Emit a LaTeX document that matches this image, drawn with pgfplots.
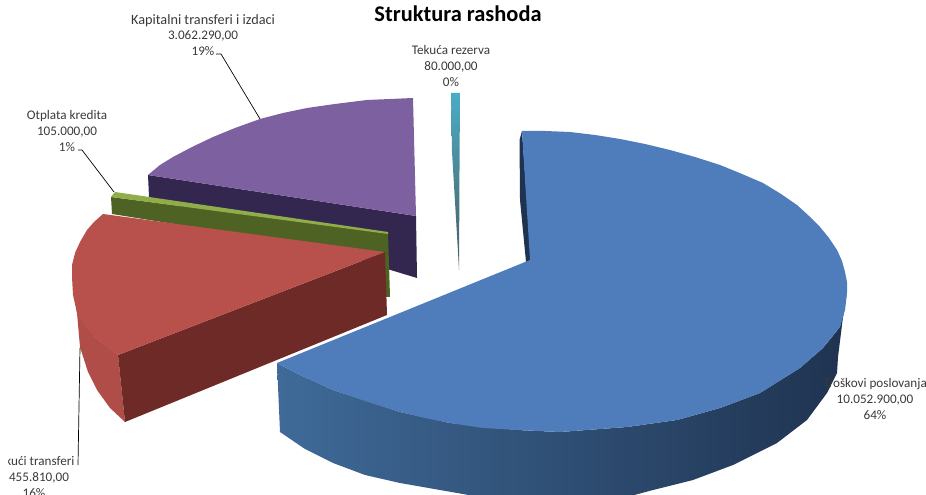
\documentclass[border=0pt]{standalone}
\usepackage{pgfplots}
\usepackage{fontspec}
\setmainfont{Carlito}
\pgfplotsset{compat=1.18}
\definecolor{txt}{HTML}{3A3A3A}
\definecolor{bface}{HTML}{4F7CBA}
\definecolor{bsa}{HTML}{3F6A98}
\definecolor{bsb}{HTML}{284468}
\definecolor{bsc}{HTML}{1F3350}
\definecolor{rface}{HTML}{B8504C}
\definecolor{rfront}{HTML}{6E2A27}
\definecolor{rout}{HTML}{B14D49}
\definecolor{gside}{HTML}{4E6223}
\definecolor{gtop}{HTML}{8FAE4A}
\definecolor{pface}{HTML}{7D60A0}
\definecolor{pside}{HTML}{33274F}
\definecolor{tl}{HTML}{4BACC6}
\definecolor{tm}{HTML}{2A7488}
\definecolor{td}{HTML}{4A5A62}
\begin{document}
\begin{tikzpicture}[x=1bp,y=1bp]
\path[use as bounding box] (0,0) rectangle (926,495);
\begin{axis}[at={(0,0)},anchor=south west,scale only axis,width=926bp,height=495bp,
  xmin=0,xmax=926,ymin=0,ymax=495,y dir=reverse,hide axis,no markers,clip=true]
% purple
\addplot[draw=none,fill=pside] coordinates {(148,175)(149,197)(417,278)(416,216)(148,175)};
\addplot[draw=none,fill=pface] coordinates {(413,98)(367,100)(335,104)(307,108)(283,113)(260,119)(235,128)(213,137)(192,147)(173,157)(160,165)(148,175)(416,216)(413,98)};
% green
\addplot[draw=none,fill=gside] coordinates {(111,197)(112,214)(385,258)(385,297)(390,297)(388,233)(111,197)};
\addplot[draw=none,fill=gtop] coordinates {(115,192)(111,197)(388,234)(388,232)(115,192)};
% red
\addplot[draw=none,fill=rout] coordinates {(73,285)(77,313)(80,347)(88,372)(97,390)(110,408)(125,422)(118,355)(95,337)(73,285)};
\addplot[draw=none,fill=rfront] coordinates {(118,355)(125,422)(387,315)(385,252)(118,355)};
\addplot[draw=none,fill=rface] coordinates {(103,214)(94,222)(87,230)(80,242)(75,253)(72,265)(72,277)(73,295)(77,313)(85,326)(95,337)(106,346)(118,355)(385,252)(103,214)};
% teal
\addplot[draw=none,top color=tl,middle color=tm,bottom color=td] coordinates {(451,93)(460,93)(459.5,168)(459,270)(458,252)(455,202)(452,152)(451,93)};
% blue
\addplot[draw=none,fill=bsc] coordinates {(522,131)(519.5,140)(520,200)(526,262)(531,260)(522,131)};
\addplot[draw=none,left color=bsa,middle color=bsb,right color=bsc] coordinates {(847,292)(843,312)(840,327)(823,348)(800,368)(760,393)(720,408)(677,420)(627,427)(560,432)(517,430)(450,423)(400,412)(333,390)(300,375)(277,363)(280,432)(305,449)(333,463)(365,475)(400,483)(440,490)(480,497)(627,497)(653,490)(693,480)(733,465)(777,443)(807,420)(827,393)(837,373)(838,357)(843,317)(847,292)};
\addplot[draw=none,fill=bface] coordinates {(522,131)(545,131)(570,132)(595,135)(620,139)(645,144)(670,150)(695,157)(720,165)(742,174)(763,183)(781,194)(797,205)(809,216)(820,227)(829,238)(837,250)(842,261)(845,272)(847,282)(847,292)(846,302)(845,310)(840,327)(823,348)(800,368)(760,393)(720,408)(677,420)(627,427)(560,432)(517,430)(483,428)(450,423)(425,418)(400,412)(365,401)(333,390)(315,382)(300,375)(277,363)(530,260)(522,131)};
% leaders
\addplot[black,line width=0.7pt] coordinates {(216,54)(221,54)(260,119)};
\addplot[black,line width=0.7pt] coordinates {(78,150)(82,150)(114,192)};
\addplot[black,line width=0.7pt] coordinates {(78,465)(80,348)};
% labels
\begin{scope}[every node/.style={align=center,text=txt,font=\fontsize{13.2}{15.8}\selectfont,inner sep=0pt}]
\node at (axis cs:203,35) {{\fontsize{14.3}{15.8}\selectfont Kapitalni transferi i izdaci}\\3.062.290,00\\19\%};
\node at (axis cs:67,131) {Otplata kredita\\105.000,00\\1\%};
\node at (axis cs:451,66) {Tekuća rezerva\\80.000,00\\0\%};
\node at (axis cs:875,399) {Troškovi poslovanja\\10.052.900,00\\64\%};
\node at (axis cs:34,477) {Tekući transferi\\2.455.810,00\\16\%};
\end{scope}
\fill[white] (axis cs:0,440) rectangle (axis cs:8,495);
\node[text=black,font=\fontsize{22.5}{24}\selectfont\bfseries,inner sep=0pt] at (axis cs:458,14) {Struktura rashoda};
\end{axis}
\end{tikzpicture}
\end{document}
